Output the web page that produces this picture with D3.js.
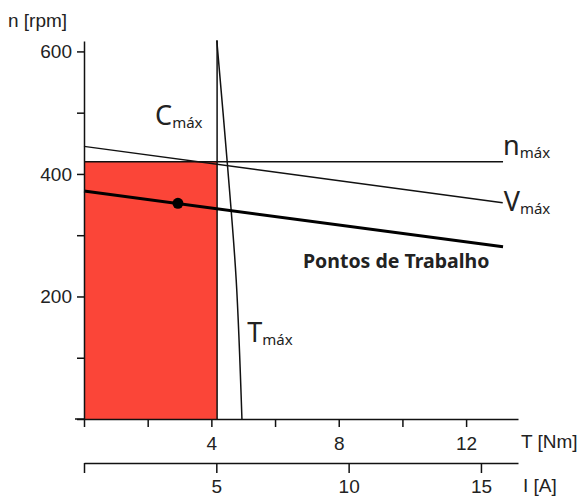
<!DOCTYPE html>
<html><head><meta charset="utf-8">
<script src="https://cdn.jsdelivr.net/npm/d3@7"></script>
<style>
  body { margin: 0; background: #fff; }
  text { fill: #222; }
</style>
</head><body>
<svg id="chart" width="582" height="501"></svg>
<script>
// Axis ticks and labels
const torqueTicks = [0, 2, 4, 6, 8, 10, 12];
const torqueLabels = [4, 8, 12];
const currentTicks = [0, 5, 10, 15];
const currentLabels = [5, 10, 15];
const speedTicks = [0, 100, 200, 300, 400, 500, 600];
const speedLabels = [200, 400, 600];

// Operating limits
const nMax = 420;            // max speed [rpm]
const cMax = 4.18;           // max continuous torque [Nm]
const vMaxT = [0, 13.15];    // voltage limit line
const vMaxN = [445, 353];
const workT = [0, 13.16];    // working points line
const workN = [372, 281];
const tMaxT = [4.17, 4.5, 4.78, 4.96]; // peak torque limit
const tMaxN = [618, 418, 227, 0];
const pointT = [2.95];       // selected working point
const pointN = [352];

const svg = d3.select("#chart");
const x = d3.scaleLinear().domain([0, 13.63]).range([84, 518]);
const xi = d3.scaleLinear().domain([0, 16.4]).range([84, 518]);
const y = d3.scaleLinear().domain([0, 617]).range([419, 41]);

const font = "'Liberation Sans', Arial, sans-serif";
const labelFont = "'Noto Sans', 'Open Sans', sans-serif";

// Allowed operating area
svg.append("rect")
  .attr("x", x(0)).attr("y", y(nMax))
  .attr("width", x(cMax) - x(0)).attr("height", y(0) - y(nMax))
  .attr("fill", "#fb4538");

const line = d3.line().x(d => x(d[0])).y(d => y(d[1]));
const smooth = d3.line().x(d => x(d[0])).y(d => y(d[1])).curve(d3.curveCatmullRom);
const pairs = (a, b) => a.map((v, i) => [v, b[i]]);

// n max
svg.append("path").attr("d", line([[0, nMax], [workT[1], nMax]]))
  .attr("stroke", "#111").attr("stroke-width", 1.5).attr("fill", "none");
// C max
svg.append("path").attr("d", line([[cMax, 0], [cMax, tMaxN[0]]]))
  .attr("stroke", "#111").attr("stroke-width", 1.5).attr("fill", "none");
// T max
svg.append("path").attr("d", smooth(pairs(tMaxT, tMaxN)))
  .attr("stroke", "#111").attr("stroke-width", 1.5).attr("fill", "none");
// V max
svg.append("path").attr("d", line(pairs(vMaxT, vMaxN)))
  .attr("stroke", "#111").attr("stroke-width", 1.5).attr("fill", "none");
// working points
svg.append("path").attr("d", line(pairs(workT, workN)))
  .attr("stroke", "#000").attr("stroke-width", 3).attr("fill", "none");
svg.selectAll("circle.pt").data(pairs(pointT, pointN)).join("circle")
  .attr("class", "pt")
  .attr("cx", d => x(d[0])).attr("cy", d => y(d[1])).attr("r", 5.5).attr("fill", "#000");

// Axes
function styleAxis(g, size) {
  g.selectAll("path.domain").attr("stroke", "#111").attr("stroke-width", 1.5);
  g.selectAll(".tick line").attr("stroke", "#111").attr("stroke-width", 1.5);
  g.selectAll("text").attr("font-family", font).attr("font-size", size).attr("fill", "#222");
}

const yAxis = svg.append("g").attr("transform", `translate(${x(0)},0)`)
  .call(d3.axisLeft(y).tickValues(speedTicks).tickSize(7).tickSizeOuter(0).tickPadding(5)
    .tickFormat(d => speedLabels.includes(d) ? d : ""));
styleAxis(yAxis, 19);
// extend origin cross
svg.append("line").attr("x1", x(0) - 9).attr("x2", x(0)).attr("y1", y(0)).attr("y2", y(0))
  .attr("stroke", "#111").attr("stroke-width", 1.5);

const tAxis = svg.append("g").attr("transform", `translate(0,${y(0)})`)
  .call(d3.axisBottom(x).tickValues(torqueTicks).tickSize(8).tickSizeOuter(0).tickPadding(10)
    .tickFormat(d => torqueLabels.includes(d) ? d : ""));
styleAxis(tAxis, 19);

const iAxis = svg.append("g").attr("transform", `translate(0,463)`)
  .call(d3.axisBottom(xi).tickValues(currentTicks).tickSize(10).tickSizeOuter(0).tickPadding(7)
    .tickFormat(d => currentLabels.includes(d) ? d : ""));
styleAxis(iAxis, 19);

// Axis titles
svg.append("text").attr("x", 8).attr("y", 27).text("n [rpm]")
  .attr("font-family", font).attr("font-size", 19);
svg.append("text").attr("x", 521).attr("y", 448).text("T [Nm]")
  .attr("font-family", font).attr("font-size", 19);
svg.append("text").attr("x", 523).attr("y", 492).text("I [A]")
  .attr("font-family", font).attr("font-size", 19);

// Curve labels with subscript
function subLabel(px, py, main, sub) {
  const t = svg.append("text").attr("x", px).attr("y", py)
    .attr("font-family", labelFont).attr("fill", "#222");
  t.append("tspan").attr("font-size", 27).text(main);
  t.append("tspan").attr("font-size", 15).attr("dy", 3).text(sub);
}
subLabel(x(cMax) - 62, 125, "C", "máx");
subLabel(x(workT[1]), 155, "n", "máx");
subLabel(x(vMaxT[1]) + 1, 211, "V", "máx");
subLabel(x(tMaxT[2]) + 11, 342, "T", "máx");

svg.append("text").attr("x", 303).attr("y", 268)
  .attr("font-family", labelFont).attr("font-weight", "bold").attr("font-size", 19.5)
  .attr("fill", "#111").text("Pontos de Trabalho");
</script>
</body></html>
